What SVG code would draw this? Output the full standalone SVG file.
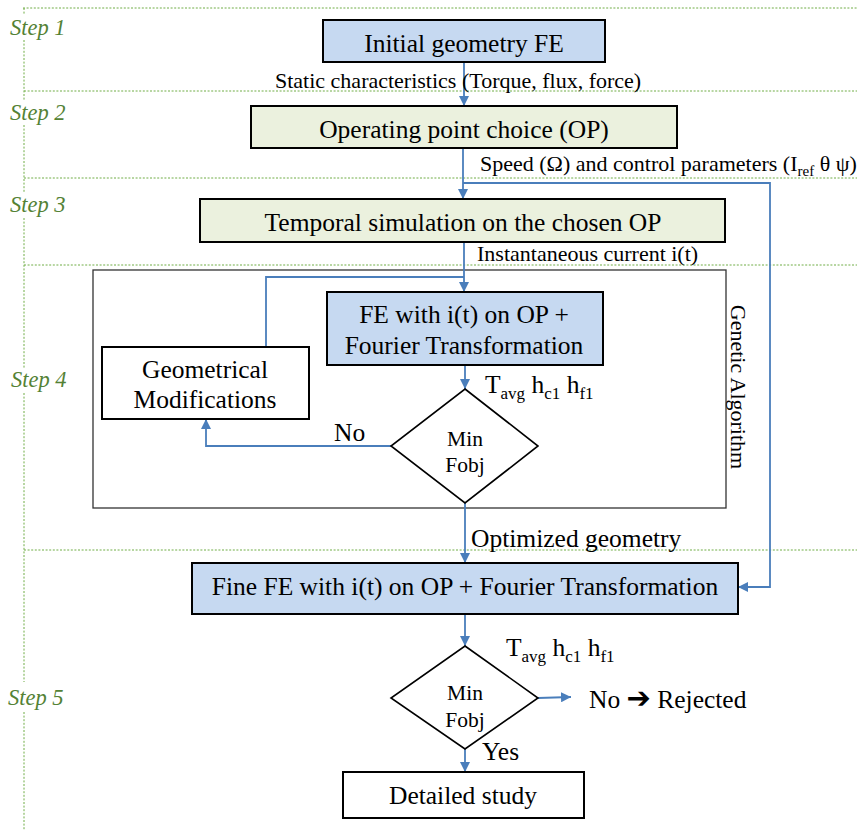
<svg xmlns="http://www.w3.org/2000/svg" width="857" height="830" viewBox="0 0 857 830">
<style>
text{font-family:"Liberation Serif","Times New Roman",serif;fill:#000}
.big{font-size:25.5px}
.lbl{font-size:22px}
.dm{font-size:21.5px}
.step{font-size:22.5px;font-style:italic;fill:#548235}
.grid{stroke:#70AD47;stroke-width:1;stroke-dasharray:2 1.6;fill:none}
.blue{fill:#C6D9F1;stroke:#000;stroke-width:2}
.green{fill:#EBF1DE;stroke:#000;stroke-width:2}
.white{fill:#fff;stroke:#000;stroke-width:2}
.dia{fill:#fff;stroke:#000;stroke-width:1.6}
.con{fill:none;stroke:#4A7EBB;stroke-width:1.8}
.ar{marker-end:url(#ah)}
</style>
<defs>
<marker id="ah" viewBox="0 0 10 10" refX="10" refY="5" markerWidth="10" markerHeight="10" markerUnits="userSpaceOnUse" orient="auto">
<path d="M0,0 L10,5 L0,10 z" fill="#4A7EBB"/>
</marker>
</defs>
<rect width="857" height="830" fill="#fff"/>
<g id="grid">
<path class="grid" d="M23,8 H857 M24,91 H857 M24,178 H857 M24,265 H857 M24,550 H857"/>
<path class="grid" d="M24,8 V15 M24,40 V100 M24,125 V193 M24,218 V368 M24,393 V682 M24,712 V830"/>
</g>
<g id="steps">
<text class="step" x="10" y="35">Step 1</text>
<text class="step" x="10" y="120">Step 2</text>
<text class="step" x="10" y="212">Step 3</text>
<text class="step" x="11" y="387">Step 4</text>
<text class="step" x="8" y="705">Step 5</text>
</g>
<g id="ga-frame">
<rect x="93" y="270" width="633" height="238" fill="none" stroke="#333" stroke-width="1.3"/>
<text class="lbl" transform="translate(731,387) rotate(90)" text-anchor="middle">Genetic Algorithm</text>
</g>
<g id="connectors">
<path class="con ar" d="M464,62 V106"/>
<path class="con ar" d="M463,148 V199"/>
<path class="con ar" d="M463,183 H770 V587 H738"/>
<path class="con ar" d="M464,242 V292"/>
<path class="con" d="M266,347 V277 H464"/>
<path class="con ar" d="M465,365 V389"/>
<path class="con ar" d="M391,446 H206 V419"/>
<path class="con ar" d="M465,503 V563"/>
<path class="con ar" d="M465,614 V646"/>
<path class="con ar" d="M538,698 L571,697"/>
<path class="con ar" d="M465,749 V772"/>
</g>
<g id="labels">
<text class="lbl" x="275" y="88">Static characteristics  (Torque, flux, force)</text>
<text class="lbl" x="480" y="171">Speed (Ω) and control parameters (I<tspan dy="5" font-size="15">ref</tspan><tspan dy="-5"> θ ψ)</tspan></text>
<text class="lbl" x="477" y="261">Instantaneous current i(t)</text>
<text class="big" x="485" y="393">T<tspan dy="6" font-size="17">avg</tspan><tspan dy="-6"> h</tspan><tspan dy="6" font-size="17">c1</tspan><tspan dy="-6"> h</tspan><tspan dy="6" font-size="17">f1</tspan></text>
<text class="big" x="334" y="441">No</text>
<text class="big" x="471" y="547">Optimized geometry</text>
<text class="big" x="506" y="656">T<tspan dy="6" font-size="17">avg</tspan><tspan dy="-6"> h</tspan><tspan dy="6" font-size="17">c1</tspan><tspan dy="-6"> h</tspan><tspan dy="6" font-size="17">f1</tspan></text>
<text class="big" x="589" y="708">No <tspan font-family="DejaVu Sans, sans-serif" font-weight="bold" font-size="29">➔</tspan> Rejected</text>
<text class="big" x="482" y="760">Yes</text>
</g>
<g id="n1">
<rect class="blue" x="323" y="20" width="282" height="42"/>
<text class="big" x="464" y="52" text-anchor="middle">Initial geometry FE</text>
</g>
<g id="n2">
<rect class="green" x="251" y="106" width="426" height="42"/>
<text class="big" x="464" y="138" text-anchor="middle">Operating point choice (OP)</text>
</g>
<g id="n3">
<rect class="green" x="200" y="199" width="525" height="43"/>
<text class="big" x="463" y="231" text-anchor="middle">Temporal simulation on the chosen OP</text>
</g>
<g id="n4">
<rect class="blue" x="327" y="292" width="276" height="73"/>
<text class="big" x="464" y="323" text-anchor="middle">FE with i(t) on OP +</text>
<text class="big" x="464" y="354" text-anchor="middle">Fourier Transformation</text>
</g>
<g id="n5">
<rect class="white" x="102" y="347" width="207" height="72"/>
<text class="big" x="205" y="378" text-anchor="middle">Geometrical</text>
<text class="big" x="205" y="408" text-anchor="middle">Modifications</text>
</g>
<g id="d1">
<polygon class="dia" points="465,389 538,446 465,503 391,446"/>
<text class="dm" x="465" y="446" text-anchor="middle">Min</text>
<text class="dm" x="465" y="472" text-anchor="middle">Fobj</text>
</g>
<g id="n6">
<rect class="blue" x="192" y="563" width="546" height="51"/>
<text class="big" x="465" y="595" text-anchor="middle">Fine FE with i(t) on OP + Fourier Transformation</text>
</g>
<g id="d2">
<polygon class="dia" points="465,646 538,698 465,749 391,698"/>
<text class="dm" x="465" y="700" text-anchor="middle">Min</text>
<text class="dm" x="465" y="727" text-anchor="middle">Fobj</text>
</g>
<g id="n7">
<rect class="white" x="343" y="772" width="241" height="46"/>
<text class="big" x="463" y="804" text-anchor="middle">Detailed study</text>
</g>
</svg>
